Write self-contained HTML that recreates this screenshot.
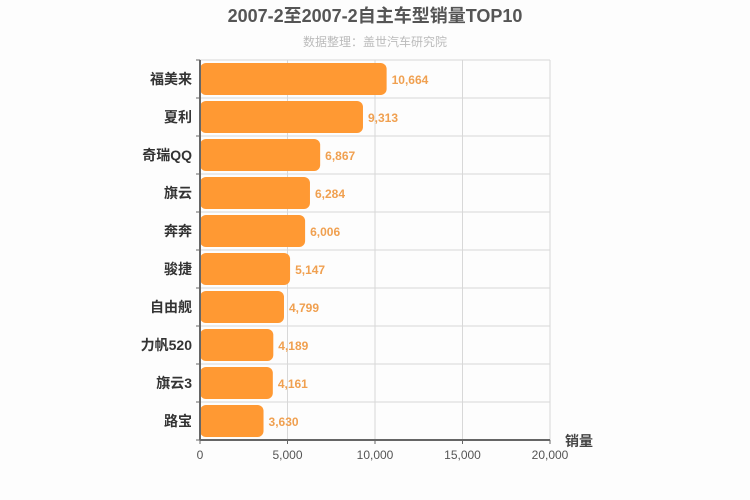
<!DOCTYPE html>
<html><head><meta charset="utf-8"><style>
body{margin:0;background:#fdfdfd;}
svg{display:block;font-family:"Liberation Sans","Noto Sans CJK SC",sans-serif;}
</style></head><body>
<svg id="chart" width="750" height="500">
<rect width="750" height="500" fill="#fdfdfd"/>
<text x="375" y="22" text-anchor="middle" font-size="18" font-weight="bold" fill="#555">2007-2至2007-2自主车型销量TOP10</text>
<text x="375" y="46" text-anchor="middle" font-size="12" fill="#bbb">数据整理：盖世汽车研究院</text>
<g id="grid"></g><g id="bars"></g><g id="axes"></g>
<text x="565" y="446" font-size="14" font-weight="bold" fill="#444">销量</text>
</svg>
<script>
const categories=["福美来","夏利","奇瑞QQ","旗云","奔奔","骏捷","自由舰","力帆520","旗云3","路宝"];
const values=[10664,9313,6867,6284,6006,5147,4799,4189,4161,3630];
const ticks=[0,5000,10000,15000,20000];
const X0=200,X1=550,Y0=60,Y1=440,MAX=20000;
const ns="http://www.w3.org/2000/svg";
const x=v=>X0+(X1-X0)*v/MAX;
const band=(Y1-Y0)/categories.length;
const y=i=>Y0+i*band;
function mk(t,a,p,txt){const e=document.createElementNS(ns,t);for(const k in a)e.setAttribute(k,a[k]);if(txt!=null)e.textContent=txt;p.appendChild(e);return e;}
const G=document.getElementById("grid"),B=document.getElementById("bars"),A=document.getElementById("axes");
ticks.forEach(t=>{
 const l=mk("line",{x1:x(t),x2:x(t),y1:Y0,y2:Y1,stroke:"#d8d8d8"},G);
 
 
 const tk=mk("line",{x1:x(t),x2:x(t),y1:Y1,y2:Y1+4,stroke:"#666"},A);
 
 
 const tl=mk("text",{x:x(t),y:Y1+19,"text-anchor":"middle","font-size":12,fill:"#555"},A,t.toLocaleString("en-US"));
 
 
});
for(let i=0;i<=categories.length;i++){
 const l=mk("line",{x1:X0,x2:X1,y1:y(i),y2:y(i),stroke:"#d8d8d8"},G);
 
 
 const tk=mk("line",{x1:X0-4,x2:X0,y1:y(i),y2:y(i),stroke:"#666"},A);
 
 
}
categories.forEach((c,i)=>{
 const r=mk("rect",{x:X0,y:y(i)+3,width:x(values[i])-X0,height:band-6,rx:6,fill:"#ff9933"},B);
 
 
 const v=mk("text",{x:x(values[i])+5,y:y(i)+band/2+5,"font-size":12,"font-weight":"bold",fill:"#f0a050"},B,values[i].toLocaleString("en-US"));
 
 
 const cl=mk("text",{x:X0-8,y:y(i)+band/2+5,"text-anchor":"end","font-size":14,"font-weight":"bold",fill:"#333"},A,c);
 
 
});
const ax=mk("line",{x1:X0,x2:X1,y1:Y1,y2:Y1,stroke:"#666","stroke-width":2},A);


const ay=mk("line",{x1:X0,x2:X0,y1:Y0,y2:Y1,stroke:"#666","stroke-width":2},A);


</script>
</body></html>
